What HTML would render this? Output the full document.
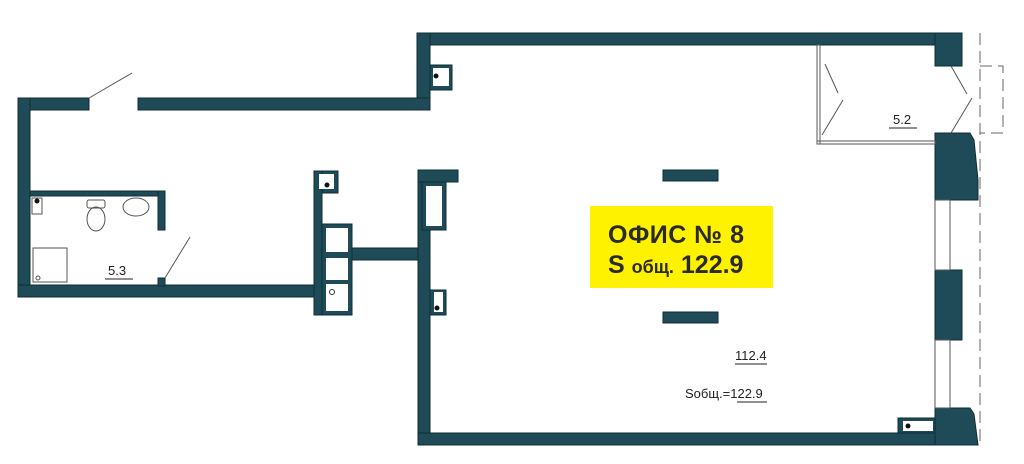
<!DOCTYPE html>
<html><head><meta charset="utf-8"><style>body{margin:0;background:#fff}svg{display:block}</style></head><body>
<svg width="1024" height="464" viewBox="0 0 1024 464" xmlns="http://www.w3.org/2000/svg" font-family="Liberation Sans, DejaVu Sans, sans-serif">
<g fill="#1e4b57" stroke="#0f2e36" stroke-width="1">
<rect x="417" y="33" width="528" height="12"/>
<rect x="417" y="33" width="13" height="77"/>
<rect x="138" y="98" width="292" height="12"/>
<rect x="18" y="98" width="71" height="12"/>
<rect x="18" y="98" width="12" height="199"/>
<rect x="18" y="285" width="305" height="12"/>
<rect x="30" y="191" width="135" height="5"/>
<rect x="158" y="191" width="7" height="39"/>
<rect x="158" y="278" width="7" height="8"/>
<rect x="314" y="171" width="24" height="22"/>
<rect x="314" y="171" width="8" height="144"/>
<rect x="322" y="224" width="30" height="91"/>
<rect x="352" y="248" width="66" height="12"/>
<rect x="418" y="170" width="12" height="275"/>
<rect x="418" y="170" width="40" height="12"/>
<rect x="422" y="182" width="24" height="48"/>
<rect x="430" y="290" width="16" height="25"/>
<rect x="418" y="433" width="527" height="12"/>
<rect x="430" y="65" width="22" height="25"/>
<rect x="663" y="170" width="55" height="11"/>
<rect x="663" y="312" width="55" height="11"/>
<rect x="935" y="33" width="27" height="33"/>
<path d="M935 133 H970 L974 140 L978 180 V200 H935 Z"/>
<rect x="935" y="270" width="27" height="70"/>
<path d="M935 408 H970 L974 414 L978 445 H935 Z"/>
<rect x="898" y="418" width="37" height="15"/>
</g>
<g fill="#fff">
<rect x="319" y="174" width="15" height="15"/>
<rect x="326" y="228" width="22" height="24"/>
<rect x="326" y="258" width="22" height="22"/>
<rect x="326" y="284" width="22" height="27"/>
<rect x="426" y="186" width="16" height="40"/>
<rect x="434" y="292" width="9" height="20"/>
<rect x="433" y="68" width="16" height="18"/>
<rect x="903" y="421" width="30" height="10"/>
</g>
<g fill="#111"><circle cx="327" cy="185" r="2.5"/><circle cx="436" cy="76" r="2.5"/><circle cx="437" cy="308" r="2.5"/><circle cx="908" cy="426" r="2.5"/><circle cx="37" cy="201" r="2.5"/></g>
<circle cx="332" cy="292" r="2.5" fill="none" stroke="#333"/>
<g fill="none" stroke="#555" stroke-width="1">
<line x1="89" y1="98" x2="132" y2="73"/>
<line x1="165" y1="278" x2="190" y2="237"/>
<rect x="32" y="198" width="10" height="16"/>
<rect x="87" y="200" width="18" height="8" rx="2"/>
<ellipse cx="96" cy="219" rx="9" ry="12"/>
<ellipse cx="136" cy="207" rx="13" ry="9"/>
<rect x="33" y="248" width="34" height="34"/>
<circle cx="38" cy="278" r="2"/>
<rect x="817" y="45" width="3" height="99"/>
<rect x="817" y="141" width="118" height="3"/>
<line x1="825" y1="64" x2="838" y2="93"/>
<line x1="822" y1="135" x2="843" y2="100"/>
<line x1="951" y1="66" x2="967" y2="94"/>
<line x1="951" y1="133" x2="972" y2="98"/>
<rect x="935" y="200" width="15" height="70"/>
<line x1="950" y1="200" x2="950" y2="270"/>
<rect x="935" y="340" width="15" height="68"/>
<line x1="950" y1="340" x2="950" y2="408"/>
</g>
<g fill="none" stroke="#666" stroke-width="1" stroke-dasharray="12,6">
<line x1="980" y1="33" x2="980" y2="445"/>
<polyline points="980,66 1003,66 1003,133 980,133"/>
</g>
<rect x="590" y="206" width="183" height="82" fill="#fff200"/>
<text x="608" y="243" font-size="25" font-weight="bold" fill="#2a2a2a" letter-spacing="0.5">ОФИС № 8</text>
<text x="608" y="273" font-size="25" font-weight="bold" fill="#2a2a2a">S <tspan font-size="18">общ.</tspan> 122.9</text>
<g font-size="13" fill="#222">
<text x="108" y="275">5.3</text><line x1="105" y1="279" x2="133" y2="279" stroke="#222"/>
<text x="893" y="124">5.2</text><line x1="889" y1="128" x2="917" y2="128" stroke="#222"/>
<text x="735" y="360">112.4</text><line x1="735" y1="364" x2="767" y2="364" stroke="#222"/>
<text x="685" y="398">Sобщ.=122.9</text><line x1="737" y1="402" x2="767" y2="402" stroke="#222"/>
</g>
</svg>
</body></html>
